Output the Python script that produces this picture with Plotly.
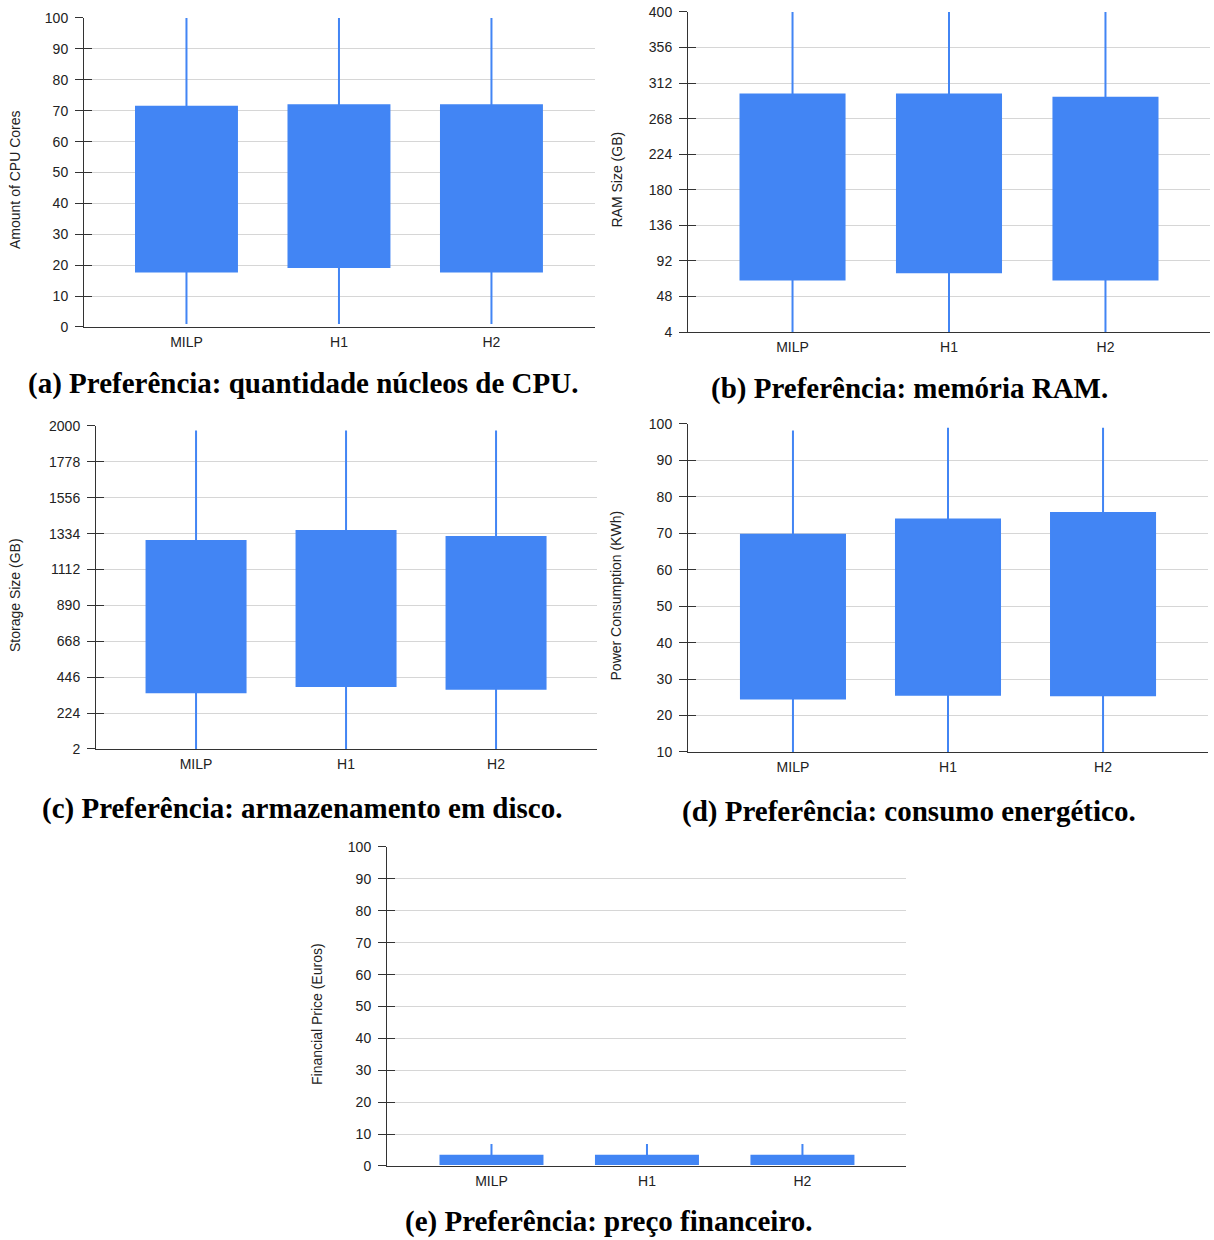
import plotly.graph_objects as go

W, H = 1214, 1240
categories = ["MILP", "H1", "H2"]

# panel a: CPU cores
cpu_low = [1, 1, 1]
cpu_q1 = [18, 19.4, 18]
cpu_q3 = [71.3, 71.8, 71.8]
cpu_high = [100, 100, 100]
cpu_ticks = [0, 10, 20, 30, 40, 50, 60, 70, 80, 90, 100]

# panel b: RAM
ram_low = [4, 4, 4]
ram_q1 = [69, 78, 69]
ram_q3 = [298, 298, 294]
ram_high = [400, 400, 400]
ram_ticks = [4, 48, 92, 136, 180, 224, 268, 312, 356, 400]

# panel c: storage
sto_low = [2, 2, 2]
sto_q1 = [353, 392, 374]
sto_q3 = [1289, 1351, 1314]
sto_high = [1972, 1972, 1972]
sto_ticks = [2, 224, 446, 668, 890, 1112, 1334, 1556, 1778, 2000]

# panel d: power
pow_low = [10, 10, 10]
pow_q1 = [24.7, 25.7, 25.6]
pow_q3 = [69.6, 73.8, 75.6]
pow_high = [98.2, 99, 99]
pow_ticks = [10, 20, 30, 40, 50, 60, 70, 80, 90, 100]

# panel e: price
pri_low = [0.5, 0.5, 0.5]
pri_q1 = [0.6, 0.6, 0.6]
pri_q3 = [3.2, 3.2, 3.2]
pri_high = [6.9, 6.9, 6.9]
pri_ticks = [0, 10, 20, 30, 40, 50, 60, 70, 80, 90, 100]

ytitles = ["Amount of CPU Cores", "RAM Size (GB)", "Storage Size (GB)",
           "Power Consumption (KWh)", "Financial Price (Euros)"]
captions = ["(a) Preferência: quantidade núcleos de CPU.",
            "(b) Preferência: memória RAM.",
            "(c) Preferência: armazenamento em disco.",
            "(d) Preferência: consumo energético.",
            "(e) Preferência: preço financeiro."]

panels = [
    dict(low=cpu_low, q1=cpu_q1, q3=cpu_q3, high=cpu_high, ticks=cpu_ticks,
         px=(84, 595), py=(18, 327), title_x=15, cap=(303, 384), xr=(-0.672, 2.679), bw=0.662),
    dict(low=ram_low, q1=ram_q1, q3=ram_q3, high=ram_high, ticks=ram_ticks,
         px=(688, 1210), py=(12, 332), title_x=617, cap=(909, 389), xr=(-0.668, 2.668), bw=0.665),
    dict(low=sto_low, q1=sto_q1, q3=sto_q3, high=sto_high, ticks=sto_ticks,
         px=(96, 597), py=(426, 749), title_x=15, cap=(302, 809), xr=(-0.667, 2.673), bw=0.66),
    dict(low=pow_low, q1=pow_q1, q3=pow_q3, high=pow_high, ticks=pow_ticks,
         px=(688, 1208), py=(424, 752), title_x=616, cap=(909, 812), xr=(-0.677, 2.677), bw=0.671),
    dict(low=pri_low, q1=pri_q1, q3=pri_q3, high=pri_high, ticks=pri_ticks,
         px=(387, 906), py=(847, 1166), title_x=317, cap=(608, 1222), xr=(-0.672, 2.666), bw=0.656),
]

# the page is photographed slightly compressed vertically; compensate
SY, OY = 0.9871, 8.0
TITLE_DY = 7.5


def fy(y):
    return (y - OY) / SY


BLUE = "#4285F4"
fig = go.Figure()
annotations = []
layout = dict(width=W, height=H, autosize=False, margin=dict(l=0, r=0, t=0, b=0),
              paper_bgcolor="white", plot_bgcolor="white", showlegend=False,
              font=dict(family="Liberation Sans, Arial", size=14, color="#222"))

for i, p in enumerate(panels):
    n = "" if i == 0 else str(i + 1)
    fig.add_trace(go.Box(
        x=[0, 1, 2], q1=p["q1"], median=p["q1"], q3=p["q3"],
        lowerfence=p["low"], upperfence=p["high"],
        width=p["bw"], whiskerwidth=0, fillcolor=BLUE,
        line=dict(color=BLUE, width=2), boxpoints=False,
        xaxis="x" + n, yaxis="y" + n, hoverinfo="skip"))
    x0, x1 = p["px"]
    y0, y1 = fy(p["py"][0]), fy(p["py"][1])
    ydom = [1 - y1 / H, 1 - y0 / H]
    yr = [p["ticks"][0], p["ticks"][-1]]
    layout["xaxis" + n] = dict(
        domain=[x0 / W, x1 / W], range=list(p["xr"]), anchor="y" + n,
        tickmode="array", tickvals=[0, 1, 2], ticktext=categories,
        showgrid=False, zeroline=False, showline=True, linecolor="#333", linewidth=1,
        ticks="", ticklabelstandoff=2, tickfont=dict(size=14, color="#222"), fixedrange=True)
    layout["yaxis" + n] = dict(
        domain=ydom, range=yr,
        anchor="x" + n, tickmode="array", tickvals=p["ticks"],
        showgrid=True, gridcolor="#d6d6d6", gridwidth=1, zeroline=False,
        showline=True, linecolor="#333", linewidth=1,
        ticks="outside", ticklen=8, tickcolor="#333", ticklabelstandoff=4,
        tickfont=dict(size=14, color="#222"), fixedrange=True)
    # overlay axis for the inner half of the tick marks
    k = str(i + 6)
    layout["yaxis" + k] = dict(
        domain=ydom, range=yr, anchor="x" + n, overlaying="y" + n,
        tickmode="array", tickvals=p["ticks"], showticklabels=False,
        showgrid=False, zeroline=False, showline=False,
        ticks="inside", ticklen=8, tickcolor="#333", fixedrange=True)
    ty = fy((p["py"][0] + p["py"][1]) / 2 + TITLE_DY)
    annotations.append(dict(
        text=ytitles[i], x=p["title_x"] / W, y=1 - ty / H,
        xref="paper", yref="paper", showarrow=False, textangle=-90,
        xanchor="center", yanchor="middle",
        font=dict(size=14, color="#222", family="Liberation Sans, Arial")))
    annotations.append(dict(
        text="<b>" + captions[i] + "</b>", x=p["cap"][0] / W, y=1 - fy(p["cap"][1]) / H,
        xref="paper", yref="paper", showarrow=False,
        xanchor="center", yanchor="middle",
        font=dict(size=29, color="black", family="Liberation Serif, Times New Roman")))

# dummy traces so overlay axes get drawn
for i, p in enumerate(panels):
    n = "" if i == 0 else str(i + 1)
    fig.add_trace(go.Scatter(x=[None], y=[None], xaxis="x" + n, yaxis="y" + str(i + 6),
                             mode="markers", hoverinfo="skip", showlegend=False))

layout["annotations"] = annotations
fig.update_layout(**layout)
post = """
var s=document.createElement('style');
s.innerHTML='html,body{margin:0!important;padding:0!important;overflow:hidden;}';
document.head.appendChild(s);
"""
fig.write_html("out.html", config={"displayModeBar": False}, post_script=post)
